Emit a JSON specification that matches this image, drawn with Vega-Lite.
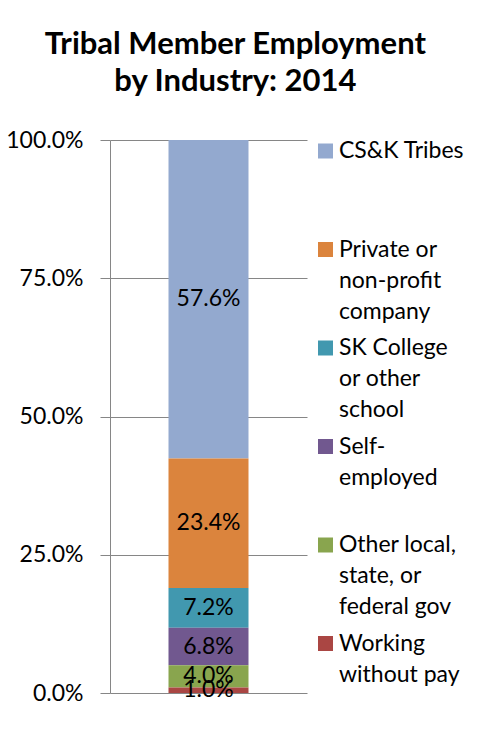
{
  "$schema": "https://vega.github.io/schema/vega-lite/v6.json",
  "width": 197,
  "height": 553,
  "autosize": {"type": "none"},
  "padding": {"left": 110, "top": 140, "right": 181, "bottom": 41},
  "background": "white",
  "title": {
    "text": ["Tribal Member Employment", "by Industry: 2014"],
    "font": "Lato",
    "fontSize": 31,
    "fontWeight": "bold",
    "color": "#000000",
    "lineHeight": 37,
    "anchor": "middle",
    "frame": "bounds",
    "offset": 31
  },
  "config": {"font": "Lato", "view": {"stroke": null}},
  "data": {
    "values": [
      {"Industry": "CS&K Tribes", "Share": 0.576, "Rank": 6},
      {"Industry": "Private or non-profit company", "Share": 0.234, "Rank": 5},
      {"Industry": "SK College or other school", "Share": 0.072, "Rank": 4},
      {"Industry": "Self-employed", "Share": 0.068, "Rank": 3},
      {"Industry": "Other local, state, or federal gov", "Share": 0.04, "Rank": 2},
      {"Industry": "Working without pay", "Share": 0.01, "Rank": 1}
    ]
  },
  "transform": [
    {"stack": "Share", "groupby": [], "sort": [{"field": "Rank", "order": "ascending"}], "as": ["Lo", "Hi"]},
    {"calculate": "(datum.Lo + datum.Hi) / 2", "as": "Mid"}
  ],
  "encoding": {
    "x": {"datum": "2014", "type": "nominal", "axis": null}
  },
  "layer": [
    {
      "mark": {"type": "bar", "size": 80},
      "encoding": {
        "y": {
          "field": "Lo",
          "type": "quantitative",
          "scale": {"domain": [0, 1], "nice": false, "zero": true},
          "axis": {
            "title": null,
            "format": ".1%",
            "values": [0, 0.25, 0.5, 0.75, 1],
            "grid": true,
            "gridColor": "#868686",
            "gridOpacity": 1,
            "gridWidth": 1,
            "domainColor": "#868686",
            "domainWidth": 1,
            "tickColor": "#868686",
            "tickWidth": 1,
            "tickSize": 10,
            "labelFont": "Lato",
            "labelFontSize": 23,
            "labelColor": "#000000",
            "labelPadding": 17
          }
        },
        "y2": {"field": "Hi"},
        "color": {
          "field": "Industry",
          "type": "nominal",
          "scale": {
            "domain": ["CS&K Tribes", "Private or non-profit company", "SK College or other school", "Self-employed", "Other local, state, or federal gov", "Working without pay"],
            "range": ["#93A9CF", "#DB843D", "#4198AF", "#71588F", "#89A54E", "#AA4643"]
          },
          "legend": {
            "title": null,
            "orient": "none",
            "legendX": 204,
            "legendY": -0.5,
            "padding": 0,
            "symbolType": "square",
            "symbolSize": 225,
            "symbolStrokeWidth": 0,
            "symbolOpacity": 1,
            "labelFont": "Lato",
            "labelFontSize": 23,
            "labelColor": "#000000",
            "labelOffset": 2,
            "labelBaseline": "alphabetic",
            "labelLimit": 200,
            "gridAlign": "all",
            "rowPadding": 12.5,
            "labelExpr": "datum.label == 'Private or non-profit company' ? ['Private or', 'non-profit', 'company'] : datum.label == 'SK College or other school' ? ['SK College', 'or other', 'school'] : datum.label == 'Self-employed' ? ['Self-', 'employed'] : datum.label == 'Other local, state, or federal gov' ? ['Other local,', 'state, or', 'federal gov'] : datum.label == 'Working without pay' ? ['Working', 'without pay'] : datum.label",
            "encode": {
              "labels": {"update": {"dy": {"value": 7}, "lineHeight": {"value": 31}}}
            }
          }
        }
      }
    },
    {
      "mark": {"type": "text", "fontSize": 23, "color": "#000000", "font": "Lato"},
      "encoding": {
        "y": {"field": "Mid", "type": "quantitative"},
        "text": {"field": "Share", "type": "quantitative", "format": ".1%"}
      }
    }
  ]
}
